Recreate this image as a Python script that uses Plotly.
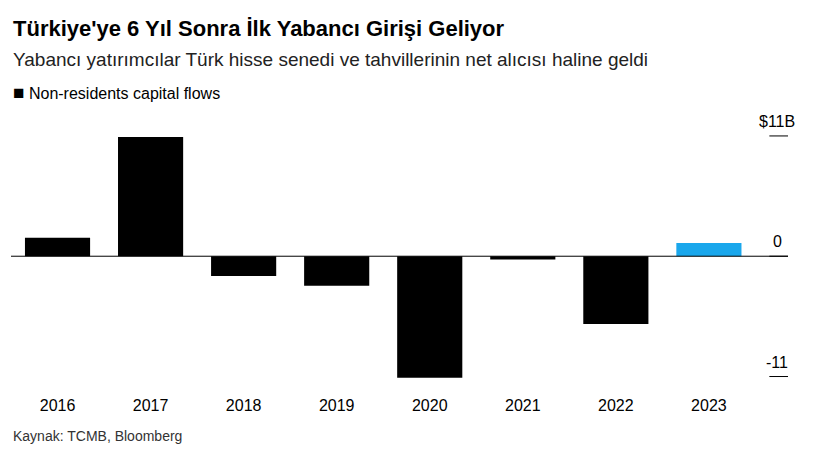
import plotly.graph_objects as go

years = ["2016", "2017", "2018", "2019", "2020", "2021", "2022", "2023"]
flows = [1.7, 10.9, -1.8, -2.7, -11.1, -0.3, -6.2, 1.2]
colors = ["#000000"] * 7 + ["#1aa7ec"]
tick_vals = [11, 0, -11]
tick_text = ["$11B", "0", "-11"]

fig = go.Figure(go.Bar(x=years, y=flows, marker_color=colors, marker_line_width=0, width=0.7))

for v, t in zip(tick_vals, tick_text):
    fig.add_shape(type="line", xref="paper", yref="y", x0=0.976, x1=1.0, y0=v, y1=v,
                  line=dict(color="#000", width=1))
    fig.add_annotation(xref="paper", yref="y", x=0.986, y=v, text=t, showarrow=False,
                       yanchor="bottom", yshift=4, xanchor="center",
                       font=dict(size=16, color="#000", family="Liberation Sans"))
fig.add_shape(type="line", xref="paper", yref="y", x0=0, x1=1, y0=0, y1=0,
              line=dict(color="#000", width=1))

fig.update_layout(
    width=817, height=458, margin=dict(l=3, r=37, t=117, b=84),
    plot_bgcolor="white", paper_bgcolor="white", showlegend=False,
    font=dict(family="Liberation Sans", color="#000"),
    xaxis=dict(range=[-0.5, 7.85], showgrid=False, ticks="outside", ticklen=9,
               tickcolor="rgba(0,0,0,0)", tickfont=dict(size=16)),
    yaxis=dict(range=[-11.5, 12], showgrid=False, zeroline=False, showticklabels=False),
    annotations=list(fig.layout.annotations) + [
        dict(xref="paper", yref="paper", x=0.0, y=1.0, xanchor="left", yanchor="top",
             text="<b>Türkiye'ye 6 Yıl Sonra İlk Yabancı Girişi Geliyor</b>", showarrow=False,
             yshift=111, font=dict(size=22)),
        dict(xref="paper", yref="paper", x=0.0, y=1.0, xanchor="left", yanchor="top",
             text="Yabancı yatırımcılar Türk hisse senedi ve tahvillerinin net alıcısı haline geldi",
             showarrow=False, yshift=78, font=dict(size=19, color="#222")),
        dict(xref="paper", yref="paper", x=0.0, y=1.0, xanchor="left", yanchor="top",
             text="<span style='font-size:19px'>■</span> Non-residents capital flows",
             showarrow=False, yshift=45, font=dict(size=16)),
        dict(xref="paper", yref="paper", x=0.0, y=0, xanchor="left", yanchor="top",
             text="Kaynak: TCMB, Bloomberg", showarrow=False, yshift=-44,
             font=dict(size=14, color="#333")),
    ],
)
fig.write_html("out.html")
